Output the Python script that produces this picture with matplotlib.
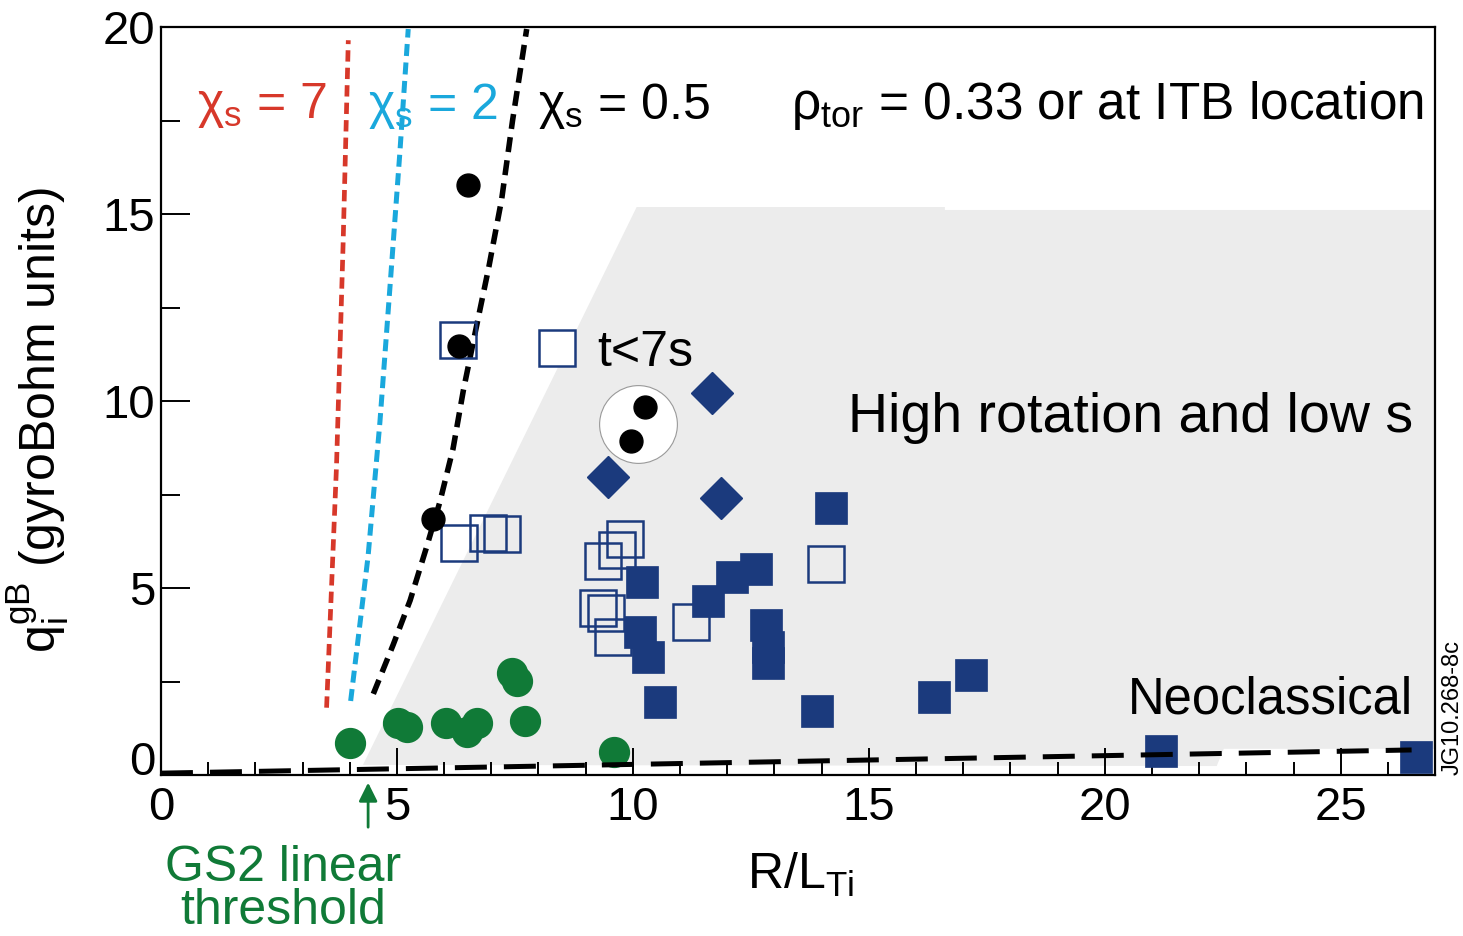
import matplotlib
matplotlib.use('Agg')
import matplotlib.pyplot as plt
from matplotlib.lines import Line2D
from matplotlib.ticker import MultipleLocator
import numpy as np

plt.rcParams['font.family'] = ['Liberation Sans', 'DejaVu Sans']
plt.rcParams['mathtext.fontset'] = 'custom'
plt.rcParams['mathtext.rm'] = 'Liberation Sans'
plt.rcParams['mathtext.it'] = 'Liberation Sans:italic'
plt.rcParams['mathtext.bf'] = 'Liberation Sans:bold'

NAVY = '#1b3a7d'
GREEN = '#107a37'
RED = '#d7382a'
CYAN = '#1aa8dc'

# stiffness curves q = f(R/LTi) for chi_s = 7, 2, 0.5
chi7_x = [3.51, 3.72, 3.86, 3.97]
chi7_y = [1.80, 8.26, 14.2, 19.65]
chi2_x = [4.02, 4.39, 4.64, 4.85, 5.06, 5.24]
chi2_y = [1.98, 5.86, 9.44, 13.0, 16.6, 19.95]
chi05_x = [4.50, 4.92, 5.28, 5.63, 5.91, 6.19, 6.41, 6.67, 6.95, 7.22, 7.45, 7.75]
chi05_y = [2.17, 3.48, 4.67, 6.10, 7.30, 8.73, 10.3, 11.9, 13.6, 15.4, 17.5, 19.95]

# neoclassical level
neo_x = [0.0, 26.5]
neo_y = [0.05, 0.67]

# shaded "high rotation and low s" region
region_x = [4.28, 10.08, 16.61, 16.61, 27.35, 27.1, 27.01, 22.52, 22.37]
region_y = [0.27, 15.19, 15.19, 15.11, 15.11, 12.7, 0.70, 0.70, 0.24]

# GS2 linear runs
gs2_x = [4.00, 5.03, 5.22, 6.05, 6.49, 6.69, 7.43, 7.55, 7.71, 9.60]
gs2_y = [0.85, 1.38, 1.28, 1.38, 1.16, 1.38, 2.74, 2.52, 1.44, 0.62]
gs2_threshold = 4.39

# JET discharges, t < 7 s
early_x = [6.30, 6.32, 6.93, 7.22, 9.83, 9.67, 9.37, 9.26, 9.44, 9.58, 11.24, 14.10]
early_y = [11.62, 6.20, 6.46, 6.44, 6.30, 6.03, 5.72, 4.46, 4.34, 3.68, 4.10, 5.64]

# JET discharges, later times
late_x = [10.20, 14.19, 12.60, 12.09, 11.60, 10.15, 10.32, 12.83, 12.87, 12.87,
          10.57, 13.90, 16.39, 17.17, 21.18, 26.59]
late_y = [5.17, 7.13, 5.50, 5.30, 4.66, 3.82, 3.15, 4.01, 3.43, 2.99,
          1.96, 1.71, 2.09, 2.67, 0.64, 0.48]

# high rotation points
rot_x = [11.68, 9.47, 11.87]
rot_y = [10.22, 7.98, 7.42]

# nonlinear GS2 points
nl_x = [6.51, 6.32, 5.77, 10.25, 9.95]
nl_y = [15.77, 11.47, 6.85, 9.85, 8.94]
circled = [3, 4]

fig = plt.figure(figsize=(14.63, 9.36), dpi=100)
ax = fig.add_axes([0.110, 0.172, 0.871, 0.799])

ax.fill(region_x, region_y, color='#ececec', lw=0, zorder=0)

ax.plot(chi7_x, chi7_y, color=RED, lw=3.4, ls=(0, (2.4, 1.3)), zorder=2)
ax.plot(chi2_x, chi2_y, color=CYAN, lw=3.6, ls=(0, (2.4, 1.3)), zorder=2)
ax.plot(chi05_x, chi05_y, color='black', lw=4.0, ls=(0, (2.7, 1.5)), zorder=2)

# white disc around the two high rotation nonlinear runs
cx = np.mean([nl_x[i] for i in circled])
cy = np.mean([nl_y[i] for i in circled])
ax.plot(cx, cy, 'o', ms=56, mfc='white', mec='#999999', mew=0.8, zorder=3)

ax.plot(early_x, early_y, ls='none', marker='s', ms=25.5, mfc='none', mec=NAVY, mew=1.8, zorder=4)
ax.plot(late_x, late_y, ls='none', marker='s', ms=23, mfc=NAVY, mec=NAVY, mew=0.5, zorder=4)
ax.plot(rot_x, rot_y, ls='none', marker='D', ms=21, mfc=NAVY, mec=NAVY, zorder=4)
ax.plot(gs2_x, gs2_y, ls='none', marker='o', ms=21.5, mfc=GREEN, mec=GREEN, zorder=4)
ax.plot(nl_x, nl_y, ls='none', marker='o', ms=16.5, mfc='black', mec='black', zorder=5)

ax.plot(neo_x, neo_y, color='black', lw=3.6, ls=(0, (6.4, 3.4)), zorder=6)

ax.set_xlim(0, 27)
ax.set_ylim(0, 20)
ax.set_xticks(range(0, 26, 5))
ax.set_yticks(range(0, 21, 5))
ax.xaxis.set_minor_locator(MultipleLocator(1))
ax.yaxis.set_minor_locator(MultipleLocator(2.5))
ax.tick_params(which='both', direction='in', top=False, right=False, width=1.4, labelsize=34)
ax.tick_params(axis='x', which='major', length=19.5, pad=8)
ax.tick_params(axis='x', which='minor', length=9.5)
ax.tick_params(axis='y', which='major', length=21, pad=4)
ax.tick_params(axis='y', which='minor', length=14)
ax.yaxis.get_major_ticks()[0].label1.set_va('baseline')
for s in ax.spines.values():
    s.set_linewidth(1.6)

ax.set_xlabel(r'R/L$_\mathrm{Ti}$', fontsize=36, va='center')
ax.xaxis.set_label_coords(0.5016, -0.134)
ax.set_ylabel(r'q$_\mathrm{i}^\mathrm{gB}$ (gyroBohm units)', fontsize=36, va='center')
ax.yaxis.set_label_coords(-0.0965, 0.4746)

ax.text(0.76, 17.9, r'χ$_\mathrm{s}$ = 7', color=RED, fontsize=36, va='center')
ax.text(4.39, 17.9, r'χ$_\mathrm{s}$ = 2', color=CYAN, fontsize=36, va='center')
ax.text(8.0, 17.9, r'χ$_\mathrm{s}$ = 0.5', color='black', fontsize=36, va='center')
ax.text(26.75, 17.9, r'ρ$_\mathrm{tor}$ = 0.33 or at ITB location', fontsize=37,
        va='center', ha='right')
ax.text(14.56, 9.55, 'High rotation and low s', fontsize=40, va='center')
ax.text(26.53, 2.0, 'Neoclassical', fontsize=36.5, va='center', ha='right')

key = Line2D([], [], ls='none', marker='s', ms=25.5, mfc='white', mec=NAVY, mew=1.8)
ax.legend([key], ['t<7s'], loc='center left', bbox_to_anchor=(7.86, 11.29),
          bbox_transform=ax.transData, frameon=False, fontsize=36,
          borderpad=0, borderaxespad=0, handlelength=1.0, handletextpad=0.3)

ax.annotate('', xy=(gs2_threshold, -0.13), xytext=(gs2_threshold, -1.47),
            arrowprops=dict(arrowstyle='-|>', color=GREEN, lw=2, mutation_scale=28),
            annotation_clip=False)
ax.text(2.58, -3.06, 'GS2 linear\nthreshold', color=GREEN, fontsize=36,
        ha='center', va='center', linespacing=0.93)

fig.text(0.993, 0.172, 'JG10.268-8c', rotation=90, ha='center', va='bottom', fontsize=17)

fig.savefig('out.png', dpi=100)
